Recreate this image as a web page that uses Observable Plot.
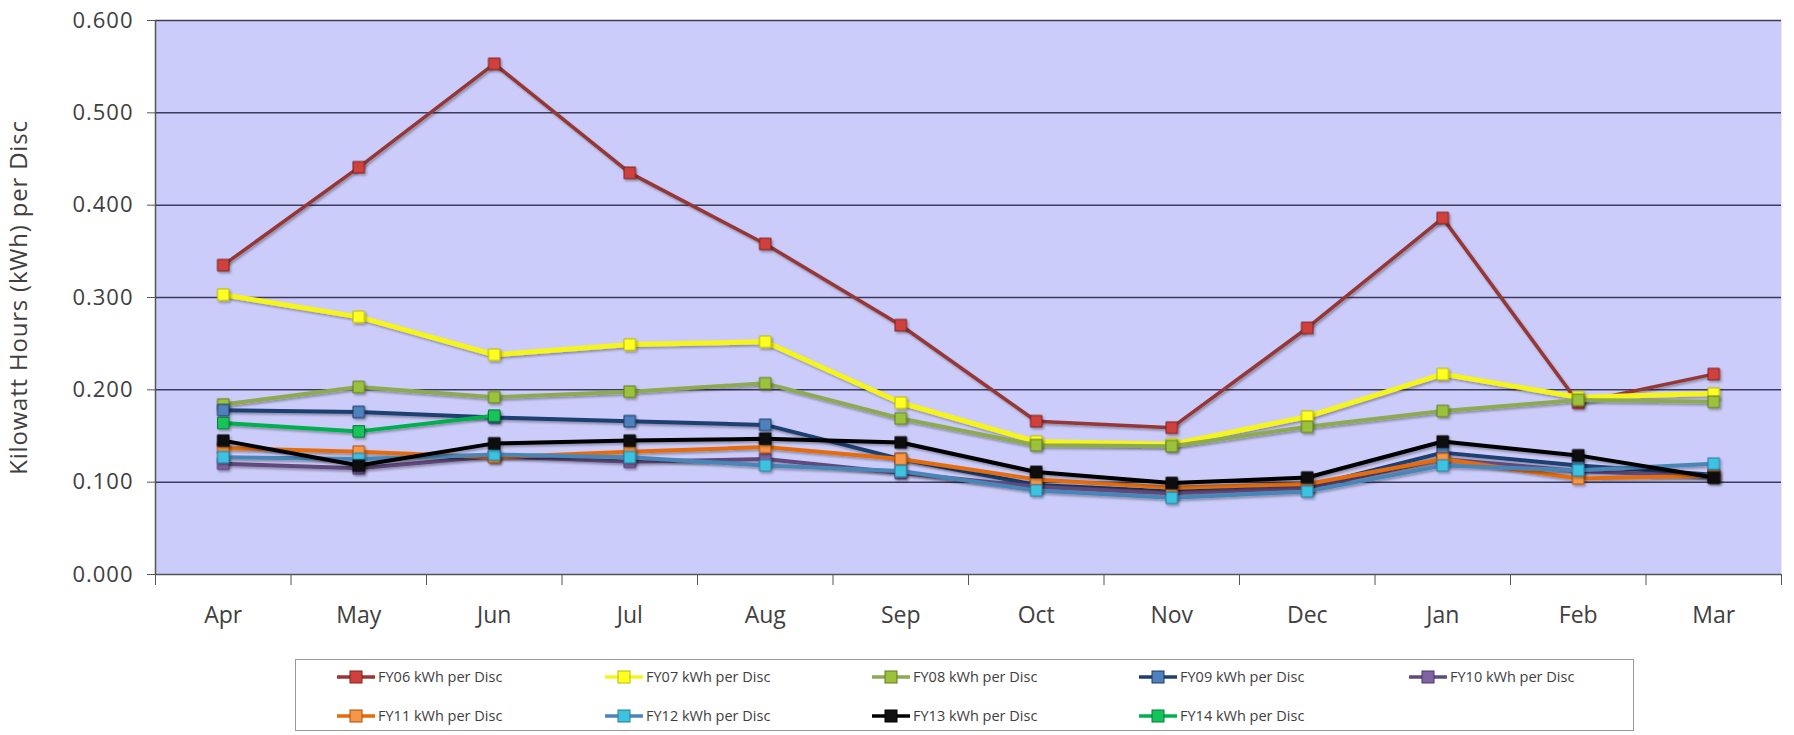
<!DOCTYPE html>
<html>
<head>
<meta charset="utf-8">
<script src="https://cdn.jsdelivr.net/npm/d3@7"></script>
<script src="https://cdn.jsdelivr.net/npm/@observablehq/plot@0.6"></script>
<style>
  body { margin: 0; background: #ffffff; font-family: "Open Sans", sans-serif; }
  #wrap { position: relative; width: 1794px; height: 735px; }
  #legend {
    position: absolute; left: 295px; top: 659px; width: 1339px; height: 72px;
    border: 1.5px solid #9a9a9a; box-sizing: border-box; background: #fff;
  }
  .item { position: absolute; display: flex; align-items: center; font-size: 14.5px; color: #404040; white-space: nowrap; }
  .item svg { margin-right: 2px; }
</style>
</head>
<body>
<div id="wrap">
  <div id="chart"></div>
  <div id="legend"></div>
</div>
<script>
const months = ["Apr", "May", "Jun", "Jul", "Aug", "Sep", "Oct", "Nov", "Dec", "Jan", "Feb", "Mar"];
const yTicks = [0, 0.1, 0.2, 0.3, 0.4, 0.5, 0.6];
const seriesNames = ["FY06 kWh per Disc", "FY07 kWh per Disc", "FY08 kWh per Disc", "FY09 kWh per Disc", "FY10 kWh per Disc",
                     "FY11 kWh per Disc", "FY12 kWh per Disc", "FY13 kWh per Disc", "FY14 kWh per Disc"];
const fy06 = [0.335, 0.441, 0.553, 0.435, 0.358, 0.270, 0.166, 0.159, 0.267, 0.386, 0.186, 0.217];
const fy07 = [0.303, 0.279, 0.238, 0.249, 0.252, 0.186, 0.144, 0.141, 0.171, 0.217, 0.192, 0.196];
const fy08 = [0.184, 0.203, 0.192, 0.198, 0.207, 0.169, 0.140, 0.139, 0.160, 0.177, 0.189, 0.187];
const fy09 = [0.178, 0.176, 0.170, 0.166, 0.162, 0.125, 0.097, 0.090, 0.095, 0.132, 0.118, 0.108];
const fy10 = [0.120, 0.115, 0.128, 0.122, 0.125, 0.110, 0.095, 0.088, 0.094, 0.125, 0.112, 0.106];
const fy11 = [0.137, 0.133, 0.127, 0.133, 0.138, 0.125, 0.103, 0.094, 0.098, 0.125, 0.104, 0.107];
const fy12 = [0.127, 0.125, 0.130, 0.127, 0.118, 0.112, 0.091, 0.083, 0.090, 0.118, 0.113, 0.120];
const fy13 = [0.145, 0.118, 0.142, 0.145, 0.147, 0.143, 0.111, 0.099, 0.105, 0.144, 0.129, 0.105];
const fy14 = [0.164, 0.155, 0.172];
const seriesValues = [fy06, fy07, fy08, fy09, fy10, fy11, fy12, fy13, fy14];

const lineColors   = ["#953735", "#F5F51E", "#8DAA52", "#1F3F6F", "#604A7B", "#E46C0A", "#4A86B8", "#000000", "#00B050"];
const markerColors = ["#D0413C", "#FFFF20", "#9CC23C", "#4F81BD", "#8064A2", "#F79646", "#3EC2E2", "#111111", "#12C45A"];
const markerStroke = ["#7a2220", "#b8b800", "#5f7a20", "#1c3a66", "#4b3670", "#a8500a", "#2a7a98", "#000000", "#0a7a38"];
const lineWidths   = [3.5, 5, 4, 4, 4, 4, 4, 4, 4];

const rows = seriesValues.map((vals, s) => vals.map((v, i) => ({series: seriesNames[s], i, value: v})));

const marks = [
  Plot.frame({fill: "#CCCCFA", stroke: null}),
  Plot.ruleY(yTicks.slice(1), {stroke: "#3a3a5c", strokeWidth: 1.5}),
  Plot.ruleX([-0.5], {stroke: "#555", strokeWidth: 1.5}),
  Plot.ruleY([0], {stroke: "#555", strokeWidth: 1.5}),
  Plot.axisY(yTicks, {tickFormat: d3.format(".3f"), tickSize: 8, tickPadding: 14, fontSize: 22, stroke: "#555", fill: "#404040", label: null}),
  Plot.axisX(d3.range(-0.5, 12, 1), {tickSize: 11, tickFormat: () => "", stroke: "#555", label: null}),
  Plot.axisX(d3.range(0, 12), {tickSize: 0, tickPadding: 32, tickFormat: i => months[i], fontSize: 23, fill: "#404040", label: null}),
  Plot.text(["Kilowatt Hours (kWh) per Disc"], {frameAnchor: "left", textAnchor: "middle", rotate: -90, dx: -136, fontSize: 24, fill: "#404040"})
];
rows.forEach((r, s) => {
  marks.push(Plot.line(r, {x: "i", y: "value", stroke: lineColors[s], strokeWidth: lineWidths[s]}));
  marks.push(Plot.dot(r, {x: "i", y: "value", symbol: "square", r: 6.5, fill: markerColors[s], stroke: markerStroke[s], strokeWidth: 1}));
});

const chart = Plot.plot({
  width: 1794,
  height: 640,
  marginLeft: 155,
  marginRight: 13,
  marginTop: 20,
  marginBottom: 66,
  style: {fontFamily: "'Open Sans', sans-serif", background: "#ffffff"},
  x: {domain: [-0.5, 11.5], axis: null},
  y: {domain: [0, 0.6], axis: null},
  marks
});
// subtle drop shadow on series lines and markers
const ns = "http://www.w3.org/2000/svg";
const defs = document.createElementNS(ns, "defs");
defs.innerHTML = '<filter id="sh" x="-10%" y="-10%" width="130%" height="140%"><feDropShadow dx="1.5" dy="2" stdDeviation="1.2" flood-color="#000" flood-opacity="0.3"/></filter>';
chart.insertBefore(defs, chart.firstChild);
chart.querySelectorAll('g[aria-label="line"], g[aria-label="dot"]').forEach(g => g.setAttribute("filter", "url(#sh)"));
chart.querySelectorAll('g[aria-label="y-axis tick label"]').forEach(g => g.setAttribute("letter-spacing", "1"));
chart.querySelectorAll('g[aria-label="text"]').forEach(g => g.setAttribute("letter-spacing", "0.8"));
document.getElementById("chart").appendChild(chart);

// legend
const legend = document.getElementById("legend");
const colX = [40, 308, 575, 842, 1112];
const rowY = [17, 56];
seriesNames.forEach((name, s) => {
  const col = s % 5, row = Math.floor(s / 5);
  const div = document.createElement("div");
  div.className = "item";
  div.style.left = colX[col] + "px";
  div.style.top = (rowY[row] - 10) + "px";
  div.innerHTML = `<svg width="40" height="18"><line x1="1" y1="9" x2="39" y2="9" stroke="${lineColors[s]}" stroke-width="3.5"/>` +
    `<rect x="14" y="3" width="12" height="12" fill="${markerColors[s]}" stroke="${markerStroke[s]}"/></svg><span>${name}</span>`;
  legend.appendChild(div);
});
</script>
</body>
</html>
